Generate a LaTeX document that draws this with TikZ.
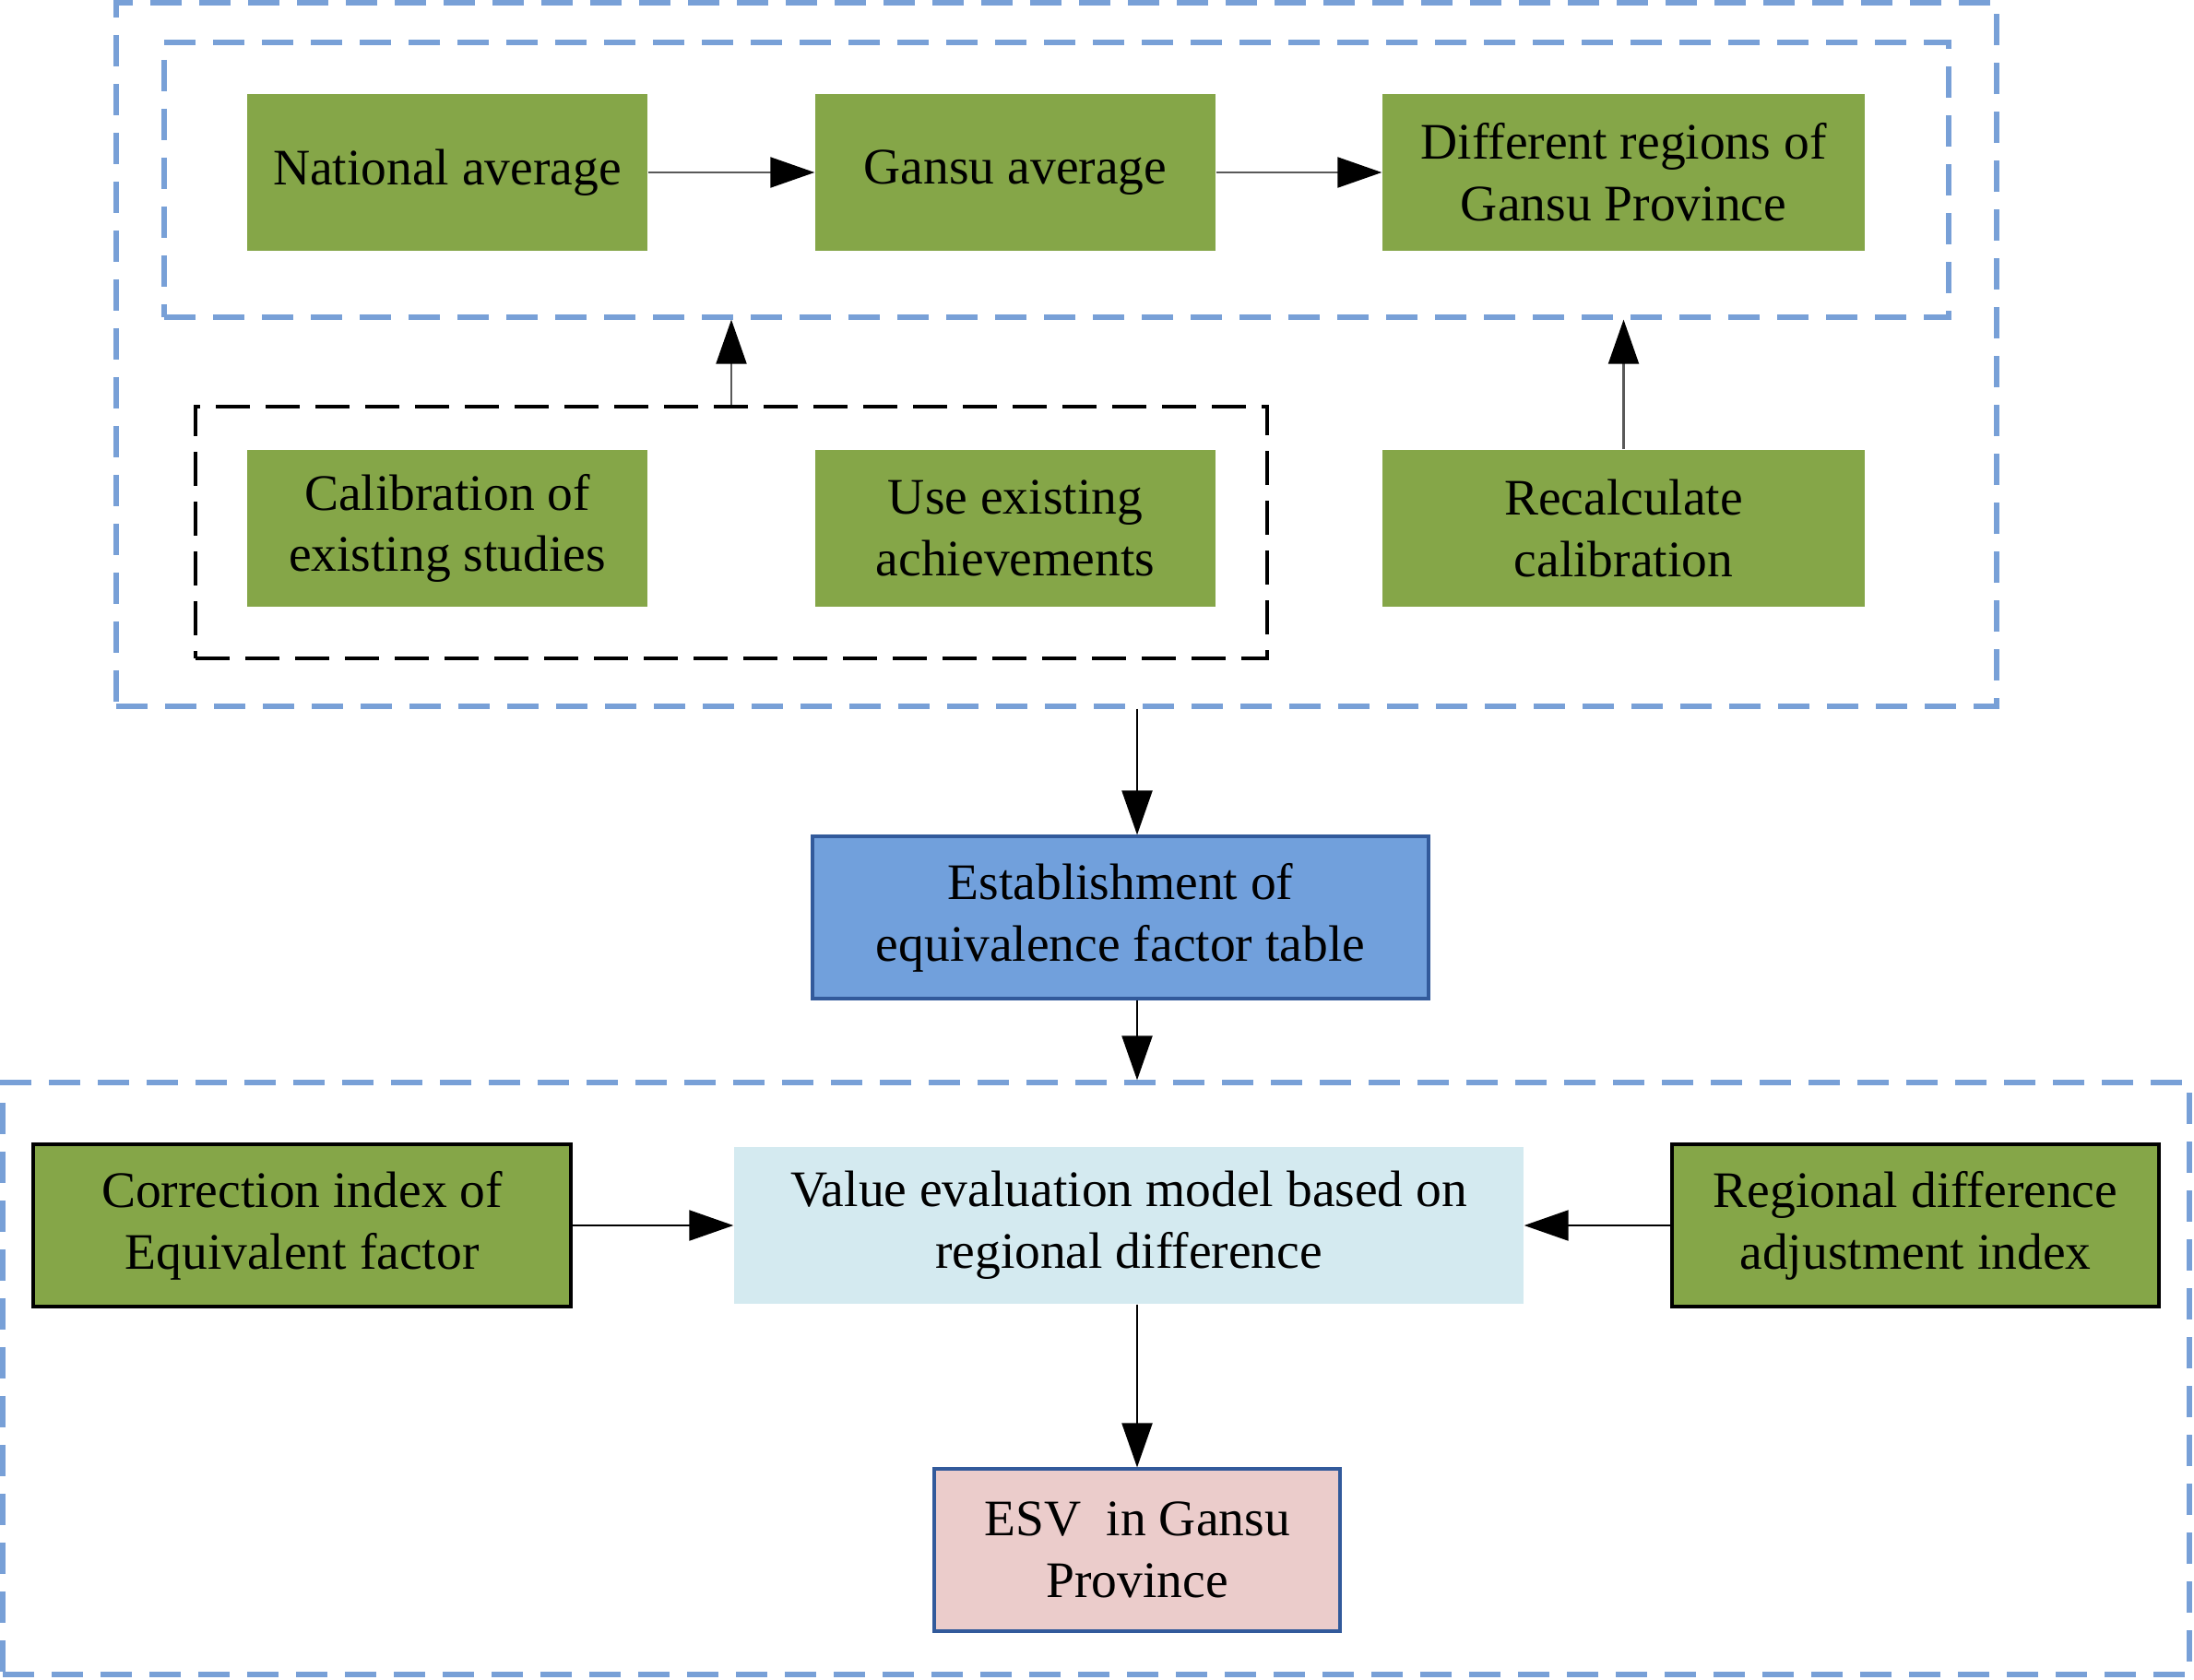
\documentclass[tikz,border=0pt]{standalone}
\usepackage{fontspec}
\setmainfont{Liberation Serif}
\usetikzlibrary{arrows.meta,calc}
\definecolor{grn}{RGB}{133,166,72}
\definecolor{dashblue}{RGB}{120,160,215}
\definecolor{estblue}{RGB}{113,160,220}
\definecolor{bordblue}{RGB}{50,90,155}
\definecolor{lightblue}{RGB}{212,234,240}
\definecolor{pinkfill}{RGB}{235,204,203}
\tikzset{
  txt/.style={align=center,font=\fontsize{15.8}{19}\selectfont,text=black,inner sep=0pt},
  oneline/.style={yshift=-0.05cm},
  greenbox/.style={txt,fill=grn},
  greenframed/.style={txt,fill=grn,draw=black,line width=0.9pt},
  bluedash/.style={draw=dashblue,line width=1.5pt,dash pattern=on 0.34cm off 0.19cm},
  blackdash/.style={draw=black,line width=0.9pt,dash pattern=on 0.37cm off 0.17cm},
  conn/.style={draw=black!65,line width=0.6pt,-{Triangle[length=0.48cm,width=0.33cm,fill=black,color=black]}},
  conndark/.style={draw=black,line width=0.6pt,-{Triangle[length=0.48cm,width=0.33cm,fill=black,color=black]}},
}
\begin{document}
\begin{tikzpicture}
\useasboundingbox (0,0) rectangle (23.79,-18.21);
% containers
\node[bluedash,minimum width=20.39cm,minimum height=7.63cm,inner sep=0pt] (outer) at (11.455,-3.845) {};
\node[bluedash,minimum width=19.35cm,minimum height=2.98cm,inner sep=0pt] (inner) at (11.455,-1.95) {};
\node[blackdash,minimum width=11.62cm,minimum height=2.73cm,inner sep=0pt] (blk) at (7.93,-5.775) {};
\node[bluedash,minimum width=23.71cm,minimum height=6.42cm,inner sep=0pt] (lower) at (11.885,-14.95) {};
% top row
\node[greenbox,minimum width=4.34cm,minimum height=1.70cm] (nat) at (4.85,-1.87) {\raisebox{-0.08cm}{National average}};
\node[greenbox,minimum width=4.34cm,minimum height=1.70cm] (gav) at (11.01,-1.87) {\raisebox{-0.05cm}{Gansu average}};
\node[greenbox,minimum width=5.23cm,minimum height=1.70cm] (dif) at (17.605,-1.87) {Different regions of\\Gansu Province};
% second row
\node[greenbox,minimum width=4.34cm,minimum height=1.70cm] (cal) at (4.85,-5.73) {Calibration of\\existing studies};
\node[greenbox,minimum width=4.34cm,minimum height=1.70cm] (use) at (11.01,-5.73) {Use existing\\achievements};
\node[greenbox,minimum width=5.23cm,minimum height=1.70cm] (rec) at (17.605,-5.73) {Recalculate\\calibration};
% middle
\node[txt,fill=estblue,draw=bordblue,line width=0.9pt,minimum width=6.68cm,minimum height=1.76cm] (est) at (12.15,-9.95) {Establishment of\\equivalence factor table};
% lower
\node[greenframed,minimum width=5.83cm,minimum height=1.76cm] (cor) at (3.275,-13.29) {Correction index of\\Equivalent factor};
\node[txt,fill=lightblue,minimum width=8.56cm,minimum height=1.70cm] (val) at (12.24,-13.29) {Value evaluation model based on\\regional difference};
\node[greenframed,minimum width=5.28cm,minimum height=1.76cm] (reg) at (20.77,-13.29) {Regional difference\\adjustment index};
\node[txt,fill=pinkfill,draw=bordblue,line width=0.9pt,minimum width=4.40cm,minimum height=1.76cm] (esv) at (12.33,-16.81) {ESV\ \ in Gansu\\Province};
% connectors
\coordinate (ax) at (12.33,0);
\coordinate (bx) at (7.93,0);
\draw[conn] (nat.east) -- (gav.west);
\draw[conn] (gav.east) -- (dif.west);
\draw[conn] (blk.north) -- (inner.south -| bx);
\draw[conn] (rec.north) -- (inner.south -| rec.north);
\draw[conndark] (outer.south -| ax) -- (est.north -| ax);
\draw[conndark] (est.south -| ax) -- (lower.north -| ax);
\draw[conndark] (cor.east) -- (val.west);
\draw[conndark] (reg.west) -- (val.east);
\draw[conndark] (val.south -| ax) -- (esv.north);
\end{tikzpicture}
\end{document}
